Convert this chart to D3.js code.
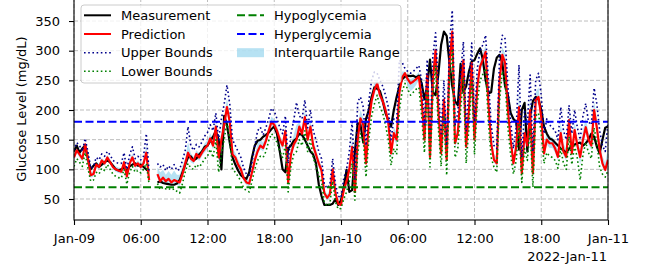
<!DOCTYPE html>
<html>
<head>
<meta charset="utf-8">
<script src="https://cdnjs.cloudflare.com/ajax/libs/d3/7.8.5/d3.min.js"></script>
<style>
  body { margin: 0; background: #fff; }
  text { font-family: "DejaVu Sans", sans-serif; }
</style>
</head>
<body>
<svg id="chart" width="650" height="272"></svg>
<script>
// ---- data (15 min steps from 2022-01-09 00:00, null = no data) ----
var measurement = [
  130,140,128,135,140,118,100,106,110,104, 108,112,115,112,106,100,98,100,103,98,
  105,108,110,106,108,104,100,96,null,null, 78,80,77,76,75,74,74,76,82,95,
  108,120,122,115,118,125,130,138,140,148, 155,165,150,100,190,175,145,120,108,98,
  90,86,84,95,120,140,148,150,155,158, 162,168,172,160,130,100,95,135,140,148,
  152,160,158,150,140,130,125,110,75,55, 40,40,40,42,50,40,48,70,99,62,
  65,130,178,175,145,185,200,222,238,236, 232,215,195,183,172,200,222,240,252,256,
  258,257,258,255,258,245,218,240,285,230, 225,260,310,332,325,280,240,215,208,278,
  230,240,265,282,284,295,304,285,250,228, 230,270,288,293,280,240,225,195,185,180,
  133,200,212,130,190,215,222,218,200,172, 160,152,150,145,140,135,132,128,135,138,
  142,144,145,140,144,150,160,155,138,127, 150,170,172
];
var prediction = [
  120,132,125,118,142,118,90,92,108,104, 115,110,120,112,104,100,98,96,112,88,
  110,120,106,110,104,110,128,82,null,null, 92,80,86,80,84,78,82,80,78,92,
  110,128,118,114,126,120,128,135,140,152, 140,172,120,150,175,205,180,125,120,108,
  100,85,78,76,95,115,130,140,136,148, 165,180,175,165,150,140,165,78,125,142,
  150,172,160,188,150,172,140,125,110,98, 60,52,58,100,60,42,40,65,80,100,
  138,62,150,186,175,110,180,215,234,245, 225,215,200,180,127,161,150,230,255,262,
  252,245,248,252,256,217,150,260,121,250, 301,200,127,217,116,280,332,144,161,230,
  284,138,200,279,150,240,273,285,298,211, 144,116,110,250,293,279,200,150,110,138,
  205,93,161,140,200,93,217,222,188,127, 150,144,144,135,121,161,130,121,183,127,
  166,140,121,150,171,150,140,200,170,133, 110,99,116
];
var upperBounds = [
  132,145,140,130,152,130,102,105,120,116, 126,122,130,124,115,112,110,110,128,100,
  124,138,118,122,116,122,160,95,null,null, 110,104,108,98,106,100,108,98,100,115,
  132,172,140,132,142,138,146,156,162,175, 165,195,150,185,210,242,210,150,140,130,
  120,102,92,90,112,138,165,171,158,170, 185,203,198,185,170,160,190,110,160,182,
  213,190,185,217,170,200,165,150,130,118, 75,68,75,118,75,55,52,85,100,130,
  180,82,214,222,205,140,215,250,264,262, 250,240,225,205,150,185,180,284,280,270,
  265,262,265,270,275,250,175,285,150,290, 330,240,160,250,140,310,368,175,195,260,
  315,165,240,313,180,270,300,310,326,250, 175,140,135,290,326,320,240,180,135,170,
  276,120,200,175,259,130,250,262,225,160, 185,175,170,165,150,205,165,150,208,160,
  200,170,150,190,211,180,175,237,210,165, 140,130,180
];
var lowerBounds = [
  105,118,112,105,128,102,80,82,95,92, 102,98,108,100,92,88,86,85,100,75,
  95,105,95,98,94,100,110,75,null,null, 76,66,70,67,68,65,67,63,60,76,
  96,110,102,100,108,104,110,118,122,134, 120,150,95,125,150,180,150,100,95,88,
  80,68,64,62,80,100,115,122,120,130, 148,160,155,145,130,120,140,62,105,125,
  130,150,140,165,130,150,120,105,90,80, 45,38,42,80,45,33,34,50,62,80,
  110,48,125,160,150,87,150,190,210,225, 205,195,175,150,107,135,125,200,232,245,
  235,225,230,235,238,190,128,235,104,220, 275,170,105,190,90,250,300,120,135,200,
  255,110,170,250,125,210,250,260,270,178, 120,104,95,215,265,250,170,125,92,115,
  175,78,135,115,170,70,190,195,160,110, 128,122,120,115,102,135,110,100,155,108,
  140,118,82,125,145,128,118,170,145,104, 92,87,98
];
var iqrHigh = [
  125,137,131,123,146,123,95,97,113,109, 119,115,124,117,108,105,103,102,118,93,
  116,127,111,115,109,115,141,87,null,null, 103,95,99,91,97,91,98,91,91,106,
  119,146,127,121,132,127,135,144,149,161, 150,181,132,164,189,220,192,135,128,117,
  108,92,84,82,102,124,144,152,145,157, 173,189,184,173,158,148,175,91,139,158,
  175,179,170,200,158,183,150,135,118,106, 66,58,65,107,66,47,45,73,88,112,
  155,70,176,200,187,122,194,229,246,252, 235,225,210,190,136,171,162,252,265,265,
  257,252,255,259,264,230,160,270,133,266, 313,216,140,230,126,292,346,156,175,242,
  296,149,216,293,162,252,284,295,309,227, 156,126,120,266,306,295,216,162,120,151,
  233,104,177,154,224,108,230,238,203,140, 164,156,154,147,133,179,144,133,193,140,
  180,152,133,166,187,162,154,215,186,146, 122,111,135
];
var iqrLow = [
  115,127,120,113,137,112,86,88,103,100, 110,106,116,108,100,96,94,92,108,83,
  105,115,102,106,100,106,122,80,null,null, 86,75,80,75,78,73,77,74,72,86,
  105,122,112,109,120,114,122,129,134,146, 133,164,111,141,166,196,170,116,111,101,
  93,79,73,71,90,110,125,134,130,142, 159,173,168,158,143,133,156,72,118,136,
  143,164,153,180,143,164,133,118,103,92, 55,47,52,93,55,39,38,60,74,93,
  128,57,141,177,166,102,170,206,226,238, 218,208,191,170,120,152,141,220,247,256,
  240,232,236,242,250,208,142,251,115,240, 292,190,119,208,107,270,321,136,152,220,
  274,128,190,269,141,230,265,276,288,199, 136,112,105,238,283,269,190,141,104,130,
  195,88,152,131,190,85,208,213,178,121, 142,136,136,128,114,152,123,114,173,120,
  157,132,107,141,162,142,132,190,161,123, 104,95,110
];
var hypoLevel = 70;
var hyperLevel = 180;
var yTickValues = [50, 100, 150, 200, 250, 300, 350];
var xTickLabels = ["Jan-09", "06:00", "12:00", "18:00", "Jan-10", "06:00", "12:00", "18:00", "Jan-11"];
var offsetLabel = "2022-Jan-11";

var startTime = Date.UTC(2022, 0, 9);
var stepMs = 15 * 60 * 1000;
var times = measurement.map(function(d, i) { return new Date(startTime + i * stepMs); });
var xTickTimes = xTickLabels.map(function(d, i) { return new Date(startTime + i * 6 * 3600 * 1000); });

// ---- layout ----
var svg = d3.select("#chart"),
    margin = {top: -2, right: 42, bottom: 52, left: 74},
    width = 650 - margin.left - margin.right,
    height = 272 - margin.top - margin.bottom,
    g = svg.append("g").attr("transform", "translate(" + margin.left + "," + margin.top + ")");

var x = d3.scaleUtc()
    .domain([xTickTimes[0], xTickTimes[xTickTimes.length - 1]])
    .range([0, width]);

var y = d3.scaleLinear()
    .domain([14.6, 388.8])
    .range([height, 0]);

svg.append("defs").append("clipPath").attr("id", "clip")
  .append("rect").attr("width", width).attr("height", height);

// grid
var grid = g.append("g").attr("stroke", "#bdbdbd").attr("stroke-width", 1).attr("stroke-dasharray", "4,2");
grid.selectAll(".gx").data(xTickTimes).enter().append("line")
    .attr("x1", function(d) { return x(d); }).attr("x2", function(d) { return x(d); })
    .attr("y1", 0).attr("y2", height);
grid.selectAll(".gy").data(yTickValues).enter().append("line")
    .attr("x1", 0).attr("x2", width)
    .attr("y1", function(d) { return y(d); }).attr("y2", function(d) { return y(d); });

var plot = g.append("g").attr("clip-path", "url(#clip)");

var area = d3.area()
    .defined(function(d, i) { return iqrLow[i] != null; })
    .x(function(d, i) { return x(times[i]); })
    .y0(function(d, i) { return y(iqrLow[i]); })
    .y1(function(d, i) { return y(iqrHigh[i]); });

function lineFor(arr) {
  return d3.line()
    .defined(function(d) { return d != null; })
    .x(function(d, i) { return x(times[i]); })
    .y(function(d) { return y(d); })(arr);
}

plot.append("path").attr("d", area(iqrHigh))
    .attr("fill", "#87ceeb").attr("fill-opacity", 0.6);

var series = [
  {data: measurement, color: "#000000", w: 2.2, dash: null},
  {data: prediction, color: "#ff0000", w: 2.2, dash: null},
  {data: upperBounds, color: "#00008b", w: 1.6, dash: "1.6,2.6"},
  {data: lowerBounds, color: "#008000", w: 1.6, dash: "1.6,2.6"}
];
series.forEach(function(s) {
  plot.append("path").attr("d", lineFor(s.data))
      .attr("fill", "none").attr("stroke", s.color).attr("stroke-width", s.w)
      .attr("stroke-linejoin", "round")
      .attr("stroke-dasharray", s.dash);
});

[[hypoLevel, "#008000"], [hyperLevel, "#0000ff"]].forEach(function(t) {
  plot.append("line")
      .attr("x1", 0).attr("x2", width)
      .attr("y1", y(t[0])).attr("y2", y(t[0]))
      .attr("stroke", t[1]).attr("stroke-width", 2).attr("stroke-dasharray", "8,3.5");
});

// axes
var xAxis = g.append("g")
    .attr("transform", "translate(0," + height + ")")
    .call(d3.axisBottom(x).tickValues(xTickTimes)
      .tickFormat(function(d, i) { return xTickLabels[i]; })
      .tickSize(5).tickPadding(8.3));
var yAxis = g.append("g")
    .call(d3.axisLeft(y).tickValues(yTickValues).tickSize(5).tickPadding(9));

[xAxis, yAxis].forEach(function(a) {
  a.selectAll("text").attr("font-size", 13).attr("font-family", "DejaVu Sans").attr("fill", "#000");
  a.selectAll("line").attr("stroke", "#000").attr("stroke-width", 1.1);
  a.select(".domain").remove();
});

// frame
g.append("rect").attr("width", width).attr("height", height)
    .attr("fill", "none").attr("stroke", "#000").attr("stroke-width", 1.1);

svg.append("text")
    .attr("x", 607).attr("y", 260.5)
    .attr("text-anchor", "end").attr("font-size", 13)
    .text(offsetLabel);

svg.append("text")
    .attr("transform", "translate(26," + (margin.top + height / 2) + ") rotate(-90)")
    .attr("text-anchor", "middle").attr("font-size", 13)
    .text("Glucose Level (mg/dL)");

// legend
var legend = svg.append("g");
legend.append("rect")
    .attr("x", 81).attr("y", 5).attr("width", 320).attr("height", 78)
    .attr("rx", 3).attr("fill", "#fff").attr("fill-opacity", 0.8)
    .attr("stroke", "#cccccc").attr("stroke-width", 1);

var legendItems = [
  {label: "Measurement", col: 0, row: 0, color: "#000000", w: 2, dash: null},
  {label: "Prediction", col: 0, row: 1, color: "#ff0000", w: 2, dash: null},
  {label: "Upper Bounds", col: 0, row: 2, color: "#00008b", w: 1.6, dash: "1.6,2.6"},
  {label: "Lower Bounds", col: 0, row: 3, color: "#008000", w: 1.6, dash: "1.6,2.6"},
  {label: "Hypoglycemia", col: 1, row: 0, color: "#008000", w: 2, dash: "8,3.5"},
  {label: "Hyperglycemia", col: 1, row: 1, color: "#0000ff", w: 2, dash: "8,3.5"},
  {label: "Interquartile Range", col: 1, row: 2, patch: true}
];
var colX = [84, 237], rowY = [15.3, 34, 52.7, 71.3];
legendItems.forEach(function(d) {
  var lx = colX[d.col], ly = rowY[d.row];
  if (d.patch) {
    legend.append("rect").attr("x", lx).attr("y", ly - 4.5).attr("width", 27).attr("height", 9)
        .attr("fill", "#87ceeb").attr("fill-opacity", 0.6);
  } else {
    legend.append("line").attr("x1", lx).attr("x2", lx + 27).attr("y1", ly).attr("y2", ly)
        .attr("stroke", d.color).attr("stroke-width", d.w).attr("stroke-dasharray", d.dash);
  }
  legend.append("text").attr("x", lx + 37).attr("y", ly + 4.7)
      .attr("font-size", 13).text(d.label);
});
</script>
</body>
</html>
